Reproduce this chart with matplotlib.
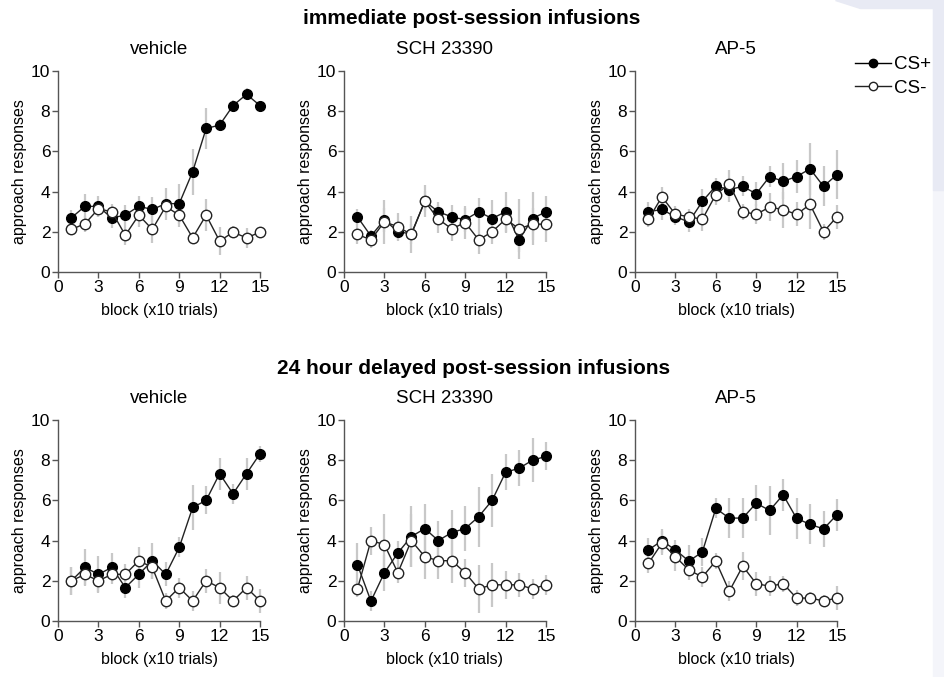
import matplotlib
matplotlib.use("Agg")
import matplotlib.pyplot as plt
from matplotlib.lines import Line2D
import numpy as np

plt.rcParams['font.family'] = ['Liberation Sans', 'DejaVu Sans']

blocks = np.arange(1, 16)

row_titles = ['immediate post-session infusions', '24 hour delayed post-session infusions']
panel_titles = ['vehicle', 'SCH 23390', 'AP-5']

# immediate post-session infusions
imm_veh_plus = [2.7, 3.27, 3.26, 2.68, 2.84, 3.27, 3.11, 3.4, 3.4, 4.99, 7.14, 7.31, 8.28, 8.84, 8.28]
imm_veh_plus_err = [0.4, 0.6, 0.5, 0.5, 0.5, 0.5, 0.6, 0.8, 1.0, 1.15, 1.0, 0.3, 0.3, 0.3, 0.2]
imm_veh_minus = [2.12, 2.4, 3.14, 3.0, 1.83, 2.83, 2.12, 3.26, 2.83, 1.7, 2.83, 1.54, 1.98, 1.7, 1.98]
imm_veh_minus_err = [0.3, 0.4, 0.4, 0.4, 0.5, 0.6, 0.7, 0.4, 0.6, 0.3, 0.8, 0.7, 0.3, 0.5, 0.2]

imm_sch_plus = [2.74, 1.79, 2.6, 2.0, 1.9, 3.52, 3.0, 2.74, 2.6, 3.0, 2.66, 3.0, 1.6, 2.66, 3.0]
imm_sch_plus_err = [0.4, 0.3, 0.6, 0.4, 0.5, 0.8, 0.5, 0.6, 0.6, 0.7, 0.9, 1.0, 0.6, 1.3, 0.8]
imm_sch_minus = [1.87, 1.6, 2.5, 2.25, 1.87, 3.52, 2.63, 2.15, 2.46, 1.6, 2.0, 2.63, 2.15, 2.38, 2.38]
imm_sch_minus_err = [0.5, 0.4, 1.1, 0.7, 0.9, 0.5, 0.7, 0.6, 0.8, 0.7, 0.6, 0.7, 1.5, 0.8, 0.9]

imm_ap5_plus = [3.0, 3.11, 2.75, 2.49, 3.51, 4.28, 4.1, 4.26, 3.89, 4.75, 4.51, 4.75, 5.13, 4.26, 4.85]
imm_ap5_plus_err = [0.5, 0.5, 0.4, 0.5, 0.6, 0.4, 0.6, 0.5, 0.6, 0.5, 0.9, 0.8, 1.3, 1.0, 1.2]
imm_ap5_minus = [2.62, 3.74, 2.87, 2.75, 2.62, 3.85, 4.38, 3.0, 2.87, 3.23, 3.1, 2.87, 3.36, 2.0, 2.75]
imm_ap5_minus_err = [0.4, 0.5, 0.4, 0.4, 0.6, 0.5, 0.7, 0.4, 0.5, 0.7, 0.9, 0.6, 1.2, 0.4, 0.6]

# 24 hour delayed post-session infusions
del_veh_plus = [2.0, 2.67, 2.32, 2.67, 1.66, 2.32, 3.0, 2.32, 3.66, 5.65, 6.0, 7.33, 6.33, 7.33, 8.32]
del_veh_plus_err = [0.7, 0.9, 0.9, 0.7, 0.5, 0.7, 0.9, 0.6, 0.5, 1.1, 0.7, 0.8, 0.5, 0.8, 0.4]
del_veh_minus = [2.0, 2.32, 2.0, 2.32, 2.32, 3.0, 2.67, 1.0, 1.66, 1.0, 2.0, 1.66, 1.0, 1.66, 1.0]
del_veh_minus_err = [0.7, 0.6, 0.6, 0.5, 0.5, 0.7, 0.6, 0.4, 0.5, 0.5, 0.6, 0.8, 0.3, 0.6, 0.6]

del_sch_plus = [2.8, 0.99, 2.4, 3.39, 4.2, 4.6, 4.0, 4.4, 4.6, 5.19, 6.0, 7.4, 7.6, 8.0, 8.19]
del_sch_plus_err = [1.1, 0.5, 0.9, 0.6, 1.5, 1.2, 1.0, 1.1, 1.1, 1.5, 1.3, 0.9, 0.9, 1.1, 0.7]
del_sch_minus = [1.6, 4.0, 3.8, 2.4, 4.0, 3.2, 3.0, 3.0, 2.4, 1.6, 1.8, 1.8, 1.8, 1.6, 1.8]
del_sch_minus_err = [0.4, 0.7, 1.5, 0.5, 1.3, 1.1, 0.9, 1.1, 0.7, 1.2, 1.1, 0.7, 0.6, 0.5, 0.5]

del_ap5_plus = [3.54, 3.99, 3.54, 2.98, 3.43, 5.6, 5.12, 5.12, 5.86, 5.5, 6.28, 5.1, 4.81, 4.58, 5.29]
del_ap5_plus_err = [0.6, 0.6, 0.5, 0.8, 0.7, 0.5, 1.0, 1.0, 0.9, 1.2, 0.8, 1.0, 1.0, 0.9, 0.8]
del_ap5_minus = [2.87, 3.87, 3.2, 2.54, 2.19, 2.98, 1.48, 2.73, 1.86, 1.73, 1.86, 1.14, 1.14, 1.0, 1.14]
del_ap5_minus_err = [0.5, 0.6, 0.7, 0.5, 0.5, 0.4, 0.5, 0.7, 0.6, 0.5, 0.4, 0.4, 0.3, 0.3, 0.6]

panels = [
    [(imm_veh_plus, imm_veh_plus_err, imm_veh_minus, imm_veh_minus_err),
     (imm_sch_plus, imm_sch_plus_err, imm_sch_minus, imm_sch_minus_err),
     (imm_ap5_plus, imm_ap5_plus_err, imm_ap5_minus, imm_ap5_minus_err)],
    [(del_veh_plus, del_veh_plus_err, del_veh_minus, del_veh_minus_err),
     (del_sch_plus, del_sch_plus_err, del_sch_minus, del_sch_minus_err),
     (del_ap5_plus, del_ap5_plus_err, del_ap5_minus, del_ap5_minus_err)],
]

W, H = 944, 677
fig = plt.figure(figsize=(W / 100, H / 100), dpi=100)

# light background decoration on the right edge
fig.patches.append(plt.Rectangle((933 / W, 0), 1, 1, transform=fig.transFigure,
                                 color='#f4f5fa', zorder=-10))
fig.patches.append(plt.Rectangle((933 / W, 1 - 190 / H), 1, 1, transform=fig.transFigure,
                                 color='#e8eaf4', zorder=-9))
fig.patches.append(plt.Polygon([(835 / W, 1), (944 / W, 1), (944 / W, 1 - 8 / H), (860 / W, 1 - 8 / H)],
                               closed=True, transform=fig.transFigure, color='#e8eaf4', zorder=-9))

lefts = [58, 344, 635]
tops = [71, 420]
aw, ah = 202, 201
axis_col = '#555555'

for r in range(2):
    for c in range(3):
        plus, plus_err, minus, minus_err = panels[r][c]
        ax = fig.add_axes([lefts[c] / W, 1 - (tops[r] + ah) / H, aw / W, ah / H])
        ax.errorbar(blocks, plus, yerr=plus_err, fmt='none', ecolor='#c8c8c8',
                    elinewidth=1.6, capsize=0, zorder=1, clip_on=False)
        ax.errorbar(blocks, minus, yerr=minus_err, fmt='none', ecolor='#c8c8c8',
                    elinewidth=1.6, capsize=0, zorder=1, clip_on=False)
        ax.plot(blocks, plus, '-o', color='#222222', lw=1.0, ms=7,
                mfc='black', mec='black', mew=1.0, zorder=3, clip_on=False)
        ax.plot(blocks, minus, '-o', color='#222222', lw=1.0, ms=7.5,
                mfc='white', mec='#222222', mew=1.0, zorder=4, clip_on=False)
        ax.set_xlim(0, 15)
        ax.set_ylim(0, 10)
        ax.set_xticks([0, 3, 6, 9, 12, 15])
        ax.set_yticks([0, 2, 4, 6, 8, 10])
        for s in ['top', 'right']:
            ax.spines[s].set_visible(False)
        for s in ['left', 'bottom']:
            ax.spines[s].set_color(axis_col)
            ax.spines[s].set_linewidth(1.0)
        ax.tick_params(direction='out', length=4, width=1.0, color=axis_col,
                       labelsize=12.5, pad=1.5)
        ax.set_xlabel('block (x10 trials)', fontsize=11.5, labelpad=6)
        ax.set_ylabel('approach responses', fontsize=11.5, labelpad=3)
        ax.set_title(panel_titles[c], fontsize=13.5, pad=12)

fig.text(472 / W, 1 - 18 / H, row_titles[0], ha='center', va='center',
         fontsize=15, fontweight='bold')
fig.text(474 / W, 1 - 368 / H, row_titles[1], ha='center', va='center',
         fontsize=15, fontweight='bold')

handles = [Line2D([], [], color='black', lw=1.0, marker='o', ms=6, mfc='black', mec='black'),
           Line2D([], [], color='#222222', lw=1.0, marker='o', ms=6, mfc='white', mec='#222222')]
fig.legend(handles, ['CS+', 'CS-'], loc='upper left', bbox_to_anchor=(855 / W, 1 - 56 / H),
           frameon=False, fontsize=13.5, handlelength=1.9, handletextpad=0.2,
           labelspacing=0.35, borderaxespad=0, borderpad=0)

fig.savefig('out.png', dpi=100)
